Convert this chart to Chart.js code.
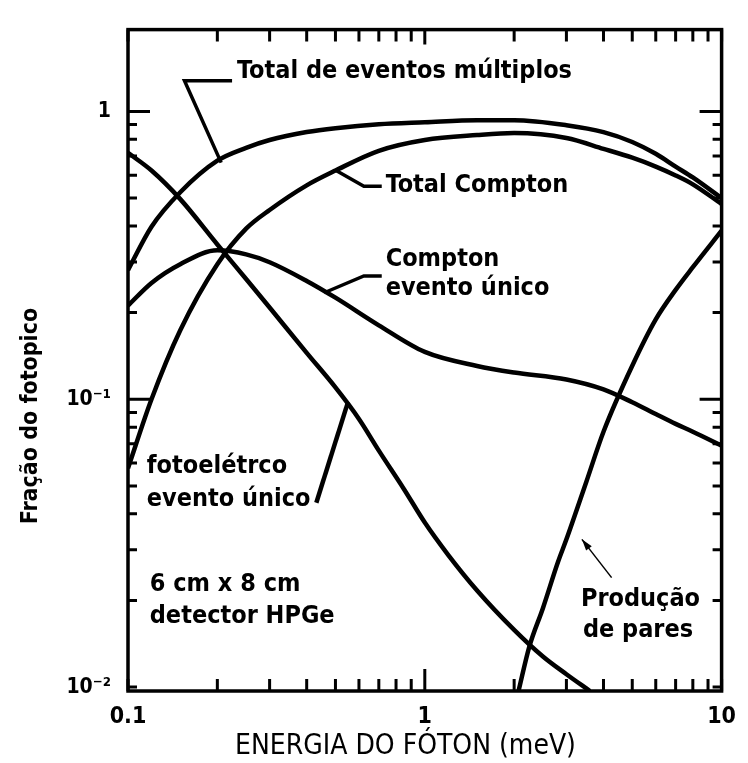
<!DOCTYPE html>
<html>
<head>
<meta charset="utf-8">
<script src="https://cdn.jsdelivr.net/npm/chart.js@4.4.1/dist/chart.umd.min.js"></script>
<style>
  html, body { margin: 0; padding: 0; background: #fff; }
  #wrap { width: 748px; height: 763px; }
</style>
</head>
<body>
<div id="wrap"><canvas id="photopeak-chart" width="748" height="763"></canvas></div>
<script>
// energias (MeV) e fracoes do fotopico
const energy = [0.1, 0.12, 0.15, 0.2, 0.25, 0.3, 0.4, 0.5, 0.7, 1, 1.5, 2, 3, 4, 5, 6, 7, 8, 10];
const totalMultiple = [0.281, 0.3975, 0.5237, 0.674, 0.747, 0.7954, 0.8475, 0.8745, 0.9026, 0.917, 0.9315, 0.9315, 0.8955, 0.8475, 0.7832, 0.7125, 0.643, 0.5896, 0.4995];
const totalCompton = [0.0576, 0.1, 0.1737, 0.2945, 0.3914, 0.4545, 0.5535, 0.6231, 0.7295, 0.7954, 0.8275, 0.8408, 0.8083, 0.7412, 0.6903, 0.643, 0.599, 0.558, 0.4766];
const comptonSingle = [0.2115, 0.2535, 0.2945, 0.329, 0.3187, 0.2992, 0.2576, 0.2253, 0.1806, 0.146, 0.1305, 0.1238, 0.1171, 0.1082, 0.0976, 0.0888, 0.0821, 0.0771, 0.069];

const peEnergy = [0.1, 0.12, 0.15, 0.2, 0.25, 0.3, 0.4, 0.5, 0.6, 0.7, 0.85, 1, 1.2, 1.5, 2, 2.5, 3, 3.6];
const photoSingle = [0.7181, 0.6231, 0.4957, 0.3449, 0.2617, 0.2083, 0.1449, 0.1099, 0.0854, 0.0663, 0.0488, 0.0373, 0.02876, 0.02166, 0.0158, 0.01277, 0.01108, 0.00969];

const ppEnergy = [2.07, 2.25, 2.5, 2.81, 3, 3.5, 4, 5, 6, 7, 8, 10];
const pairProduction = [0.0097, 0.01382, 0.0188, 0.0272, 0.0326, 0.0516, 0.0771, 0.1307, 0.1894, 0.2399, 0.2876, 0.385];

const xTicks = [0.1, 0.2, 0.3, 0.4, 0.5, 0.6, 0.7, 0.8, 0.9, 1, 2, 3, 4, 5, 6, 7, 8, 9, 10];
const xLabels = {0.1: '0.1', 1: '1', 10: '10'};
const yTicks = [0.01, 0.02, 0.03, 0.04, 0.05, 0.06, 0.07, 0.08, 0.09, 0.1, 0.2, 0.3, 0.4, 0.5, 0.6, 0.7, 0.8, 0.9, 1];
const yLabels = {0.01: '10⁻²', 0.1: '10⁻¹', 1: '1'};

// textos e setas, em coordenadas dos eixos
const notes = [
  {text: 'Total de eventos múltiplos', x: 0.2329, y: 1.371},
  {text: 'Total Compton', x: 0.738, y: 0.5535},
  {text: 'Compton', x: 0.738, y: 0.3064},
  {text: 'evento único', x: 0.738, y: 0.2417},
  {text: 'fotoelétrco', x: 0.1157, y: 0.05851},
  {text: 'evento único', x: 0.1157, y: 0.04473},
  {text: '6 cm x 8 cm', x: 0.1184, y: 0.0227},
  {text: 'detector HPGe', x: 0.1184, y: 0.01764},
  {text: 'Produção', x: 3.357, y: 0.02017},
  {text: 'de pares', x: 3.409, y: 0.01567}
];
const leaders = [
  {pts: [[0.2242, 1.277], [0.155, 1.277], [0.206, 0.6637]], w: 3.5},
  {pts: [[0.716, 0.5492], [0.6233, 0.5492], [0.5024, 0.6231]], w: 3.5},
  {pts: [[0.716, 0.268], [0.6233, 0.268], [0.4583, 0.2344]], w: 3.5},
  {pts: [[0.431, 0.0437], [0.551, 0.0977]], w: 4.5},
  {pts: [[4.26, 0.024], [3.383, 0.0326]], w: 1.5, head: true}
];

const canvasEl = document.getElementById('photopeak-chart');
const font = "'Liberation Sans Narrow', 'DejaVu Sans Condensed', 'Liberation Sans', sans-serif";

function toPoints(xs, ys)
{
    return xs.map((x, i) => ({x: x, y: ys[i]}));
}

function lineSet(label, xs, ys)
{
    return {
        label: label,
        data: toPoints(xs, ys),
        borderColor: '#000',
        borderWidth: 4.5,
        pointRadius: 0,
        fill: false,
        cubicInterpolationMode: 'monotone'
    };
}

const frameAndNotes = {
    id: 'frameAndNotes',
    afterDatasetsDraw(chart) {
        const {ctx, chartArea: a, scales} = chart;
        const x = scales.x, y = scales.y;
        ctx.save();
        ctx.strokeStyle = '#000';
        ctx.fillStyle = '#000';
        ctx.lineWidth = 3.5;
        ctx.strokeRect(a.left, a.top, a.right - a.left, a.bottom - a.top);

        ctx.lineWidth = 3;
        xTicks.forEach(v => {
            const px = x.getPixelForValue(v);
            ctx.beginPath();
            ctx.moveTo(px, a.bottom); ctx.lineTo(px, a.bottom - (v === 1 ? 22 : 12));
            ctx.moveTo(px, a.top); ctx.lineTo(px, a.top + (v === 1 ? 15 : 12));
            ctx.stroke();
        });
        yTicks.forEach(v => {
            const py = y.getPixelForValue(v);
            const len = (v === 1 || v === 0.1) ? 22 : 9;
            ctx.beginPath();
            ctx.moveTo(a.left, py); ctx.lineTo(a.left + len, py);
            ctx.moveTo(a.right, py); ctx.lineTo(a.right - len, py);
            ctx.stroke();
        });

        leaders.forEach(l => {
            const pts = l.pts.map(p => [x.getPixelForValue(p[0]), y.getPixelForValue(p[1])]);
            ctx.lineWidth = l.w;
            ctx.beginPath();
            pts.forEach((p, i) => { if (i === 0) ctx.moveTo(p[0], p[1]); else ctx.lineTo(p[0], p[1]); });
            ctx.stroke();
            if (l.head) {
                const [x1, y1] = pts[pts.length - 2], [x2, y2] = pts[pts.length - 1];
                const ang = Math.atan2(y2 - y1, x2 - x1);
                ctx.beginPath();
                ctx.moveTo(x2, y2);
                ctx.lineTo(x2 - 12 * Math.cos(ang - 0.3), y2 - 12 * Math.sin(ang - 0.3));
                ctx.lineTo(x2 - 12 * Math.cos(ang + 0.3), y2 - 12 * Math.sin(ang + 0.3));
                ctx.closePath();
                ctx.fill();
            }
        });

        ctx.font = 'bold 25px ' + font;
        ctx.textAlign = 'left';
        ctx.textBaseline = 'middle';
        notes.forEach(n => {
            ctx.fillText(n.text, x.getPixelForValue(n.x), y.getPixelForValue(n.y));
        });

        // titulos dos eixos
        ctx.textAlign = 'center';
        ctx.font = '28px ' + font;
        ctx.fillText('ENERGIA DO FÓTON (meV)', x.getPixelForValue(0.861), a.bottom + 56);
        ctx.save();
        ctx.translate(a.left - 97, y.getPixelForValue(0.0874));
        ctx.rotate(-Math.PI / 2);
        ctx.font = 'bold 23px ' + font;
        ctx.fillText('Fração do fotopico', 0, 0);
        ctx.restore();
        ctx.restore();
    }
};

new Chart(canvasEl, {
    type: 'line',
    data: {
        datasets: [
            lineSet('Total de eventos múltiplos', energy, totalMultiple),
            lineSet('Total Compton', energy, totalCompton),
            lineSet('Compton evento único', energy, comptonSingle),
            lineSet('fotoelétrco evento único', peEnergy, photoSingle),
            lineSet('Produção de pares', ppEnergy, pairProduction)
        ]
    },
    options: {
        responsive: false,
        animation: false,
        devicePixelRatio: 1,
        layout: { padding: { left: 0, top: 20, right: 21, bottom: 0 } },
        plugins: {
            legend: { display: false },
            tooltip: { enabled: false }
        },
        scales: {
            x: {
                type: 'logarithmic',
                min: 0.1,
                max: 10,
                afterBuildTicks: s => { s.ticks = xTicks.map(v => ({value: v})); },
                afterFit: s => { s.height = 72; },
                grid: { display: false, drawTicks: false },
                border: { display: false },
                ticks: {
                    autoSkip: false,
                    maxRotation: 0,
                    padding: 12,
                    color: '#000',
                    font: { family: font, size: 23, weight: 'bold' },
                    callback: v => xLabels[v] || ''
                }
            },
            y: {
                type: 'logarithmic',
                min: 0.00969,
                max: 1.924,
                afterBuildTicks: s => { s.ticks = yTicks.map(v => ({value: v})); },
                afterFit: s => { s.width = 128; },
                grid: { display: false, drawTicks: false },
                border: { display: false },
                ticks: {
                    autoSkip: false,
                    padding: 17,
                    color: '#000',
                    font: { family: font, size: 21, weight: 'bold' },
                    callback: v => yLabels[v] || ''
                }
            }
        }
    },
    plugins: [frameAndNotes]
});
</script>
</body>
</html>
